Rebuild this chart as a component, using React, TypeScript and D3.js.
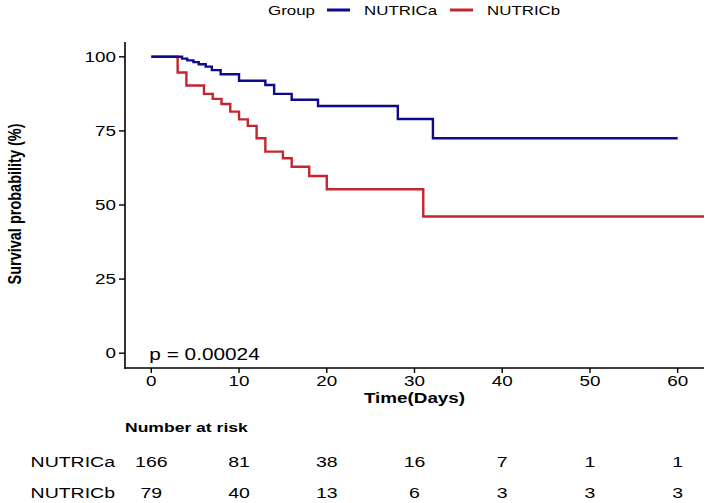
import React from "react";
import * as d3 from "d3";

// Kaplan-Meier steps (time in days, survival in %)
const groups = ["NUTRICa", "NUTRICb"];
const colors = ["#0b0b8c", "#c3262e"];

const timesA = [0, 3.5, 4.1, 4.8, 5.4, 6.2, 6.9, 7.9, 10.0, 13.0, 14.0, 16.0, 19.0, 28.1, 32.1, 60];
const survA = [100, 99.4, 98.8, 98.2, 97.5, 96.7, 95.5, 94.1, 91.9, 90.5, 87.5, 85.5, 83.4, 79.0, 72.5, 72.5];

const timesB = [0, 3, 4, 6, 7, 8, 9, 10, 11, 12, 13, 15, 16, 18, 20, 31, 63];
const survB = [100, 94.7, 90.3, 87.5, 85.8, 84.1, 81.5, 78.9, 76.7, 72.5, 68.0, 65.8, 62.9, 59.8, 55.3, 46.1, 46.1];

const xTicks = [0, 10, 20, 30, 40, 50, 60];
const yTicks = [0, 25, 50, 75, 100];

// number at risk
const riskA = [166, 81, 38, 16, 7, 1, 1];
const riskB = [79, 40, 13, 6, 3, 3, 3];

const pText = "p = 0.00024";

const FONT = "'Liberation Sans', Arial, sans-serif";
const SX = 1.3; // the source figure is stretched horizontally

type Pt = { t: number; s: number };

const T = ({
  x,
  y,
  size,
  anchor = "start",
  bold = false,
  rotate = 0,
  children,
}: {
  x: number;
  y: number;
  size: number;
  anchor?: "start" | "middle" | "end";
  bold?: boolean;
  rotate?: number;
  children: React.ReactNode;
}) => (
  <text
    transform={`translate(${x},${y}) scale(${SX},1)${rotate ? ` rotate(${rotate})` : ""}`}
    textAnchor={anchor}
    dominantBaseline="central"
    fontFamily={FONT}
    fontSize={size}
    fontWeight={bold ? "bold" : "normal"}
    fill="#000"
  >
    {children}
  </text>
);

export default function App() {
  const width = 708,
    height = 503;
  const panel = { left: 125, right: 704, top: 42, bottom: 368 };

  const x = d3.scaleLinear().domain([-3, 63]).range([panel.left, panel.right]);
  const y = d3.scaleLinear().domain([-5, 105]).range([panel.bottom, panel.top]);

  const line = d3
    .line<Pt>()
    .x((d) => x(d.t))
    .y((d) => y(d.s))
    .curve(d3.curveStepAfter);

  const series: Pt[][] = [
    timesA.map((t, i) => ({ t, s: survA[i] })),
    timesB.map((t, i) => ({ t, s: survB[i] })),
  ];
  const risk = [riskA, riskB];

  return (
    <svg
      width={width}
      height={height}
      style={{ position: "absolute", left: 0, top: 0, background: "#fff" }}
    >
      {/* legend */}
      <T x={268} y={10} size={13}>Group</T>
      <line x1={327} x2={350} y1={10} y2={10} stroke={colors[0]} strokeWidth={3} />
      <T x={364} y={10} size={13}>{groups[0]}</T>
      <line x1={450} x2={473} y1={10} y2={10} stroke={colors[1]} strokeWidth={3} />
      <T x={487} y={10} size={13}>{groups[1]}</T>

      {/* curves: drawn red first so blue sits on top at the start */}
      {[1, 0].map((i) => (
        <path
          key={i}
          d={line(series[i]) ?? ""}
          fill="none"
          stroke={colors[i]}
          strokeWidth={2.4}
        />
      ))}

      {/* axes */}
      <line x1={panel.left} x2={panel.left} y1={panel.top} y2={panel.bottom + 0.75} stroke="#000" strokeWidth={1.6} />
      <line x1={panel.left - 0.75} x2={panel.right} y1={panel.bottom} y2={panel.bottom} stroke="#000" strokeWidth={1.6} />
      {yTicks.map((v) => (
        <g key={v}>
          <line x1={panel.left - 6} x2={panel.left} y1={y(v)} y2={y(v)} stroke="#000" strokeWidth={1.4} />
          <T x={116} y={y(v)} size={14.5} anchor="end">{v}</T>
        </g>
      ))}
      {xTicks.map((v) => (
        <g key={v}>
          <line x1={x(v)} x2={x(v)} y1={panel.bottom} y2={panel.bottom + 5} stroke="#000" strokeWidth={1.4} />
          <T x={x(v)} y={381} size={14.5} anchor="middle">{v}</T>
        </g>
      ))}

      <T x={15} y={204} size={14.5} anchor="middle" bold rotate={-90}>
        Survival probability (%)
      </T>
      <T x={(panel.left + panel.right) / 2} y={398} size={14.5} anchor="middle" bold>
        Time(Days)
      </T>

      <T x={x(0) - 2} y={354} size={16}>{pText}</T>

      {/* risk table */}
      <T x={125} y={427} size={13.5} bold>Number at risk</T>
      {risk.map((row, r) => (
        <g key={r}>
          <T x={115} y={[462, 493][r]} size={15} anchor="end">{groups[r]}</T>
          {row.map((n, i) => (
            <T key={i} x={x(xTicks[i])} y={[462, 493][r]} size={15} anchor="middle">
              {n}
            </T>
          ))}
        </g>
      ))}
    </svg>
  );
}
